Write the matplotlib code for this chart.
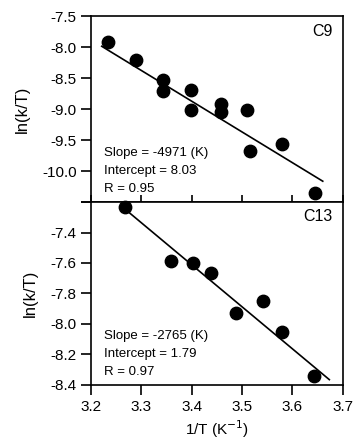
import numpy as np
import matplotlib
matplotlib.use('Agg')
import matplotlib.pyplot as plt

plt.rcParams['font.family'] = ['Liberation Sans', 'DejaVu Sans']

# C9 data (1/T in 1e-3 K^-1, ln(k/T))
c9_x = [3.235, 3.289, 3.343, 3.343, 3.398, 3.398, 3.458, 3.458, 3.510, 3.516, 3.579, 3.645]
c9_y = [-7.92, -8.20, -8.53, -8.71, -8.69, -9.02, -8.91, -9.05, -9.01, -9.67, -9.57, -10.35]
c9_slope = -4971
c9_intercept = 8.03
c9_r = 0.95
c9_fit_range = [3.222, 3.660]

# C13 data
c13_x = [3.268, 3.359, 3.403, 3.439, 3.489, 3.541, 3.579, 3.643]
c13_y = [-7.234, -7.585, -7.600, -7.669, -7.929, -7.849, -8.054, -8.340]
c13_slope = -2765
c13_intercept = 1.79
c13_r = 0.97
c13_fit_range = [3.270, 3.673]

x_ticks = [3.2, 3.3, 3.4, 3.5, 3.6, 3.7]
c9_yticks = [-7.5, -8.0, -8.5, -9.0, -9.5, -10.0, -10.5]
c13_yticks = [-7.2, -7.4, -7.6, -7.8, -8.0, -8.2, -8.4]

fig = plt.figure(figsize=(3.61, 4.48), dpi=100)
ax1 = fig.add_axes([0.251, 0.549, 0.699, 0.415])
ax2 = fig.add_axes([0.251, 0.141, 0.699, 0.408])

panels = [
    (ax1, c9_x, c9_y, c9_slope, c9_intercept, c9_r, c9_fit_range, c9_yticks, 'C9', (-10.5, -7.5)),
    (ax2, c13_x, c13_y, c13_slope, c13_intercept, c13_r, c13_fit_range, c13_yticks, 'C13', (-8.4, -7.2)),
]

for ax, xs, ys, slope, icpt, r, rng, yticks, name, ylim in panels:
    fx = np.array(rng)
    ax.plot(fx, icpt + slope / 1000.0 * fx, color='black', lw=1.2, zorder=2)
    ax.scatter(xs, ys, s=80, color='black', zorder=3, clip_on=False)
    ax.set_xlim(3.2, 3.7)
    ax.set_ylim(*ylim)
    ax.set_yticks(yticks)
    # edge ticks carry no label
    labels = ['%.1f' % v for v in yticks]
    if name == 'C9':
        labels[-1] = ''
    else:
        labels[0] = ''
    ax.set_yticklabels(labels)
    ax.set_xticks(x_ticks)
    ax.tick_params(axis='y', direction='out', length=7, width=1.2, labelsize=11, pad=3)
    for sp in ax.spines.values():
        sp.set_linewidth(1.2)
    ax.set_ylabel('ln(k/T)', fontsize=12, labelpad=9)
    ax.text(0.96, 0.915 if name == 'C9' else 0.92, name, transform=ax.transAxes,
            ha='right', va='center', fontsize=11.5)
    ax.text(0.054, 0.265, 'Slope = %d (K)' % slope, transform=ax.transAxes,
            ha='left', va='center', fontsize=9.5)
    ax.text(0.054, 0.168, 'Intercept = %.2f' % icpt, transform=ax.transAxes,
            ha='left', va='center', fontsize=9.5)
    ax.text(0.054, 0.07, 'R = %.2f' % r, transform=ax.transAxes,
            ha='left', va='center', fontsize=9.5)

ax1.tick_params(axis='x', direction='in', length=5, width=1.2, labelbottom=False)
ax2.tick_params(axis='x', direction='out', length=7, width=1.2, labelsize=11, pad=4)
ax2.set_xticklabels(['%.1f' % v for v in x_ticks])
ax2.set_xlabel('1/T (K$^{-1}$)', fontsize=11, labelpad=3)

fig.align_ylabels([ax1, ax2])
fig.savefig('out.png', dpi=100)
